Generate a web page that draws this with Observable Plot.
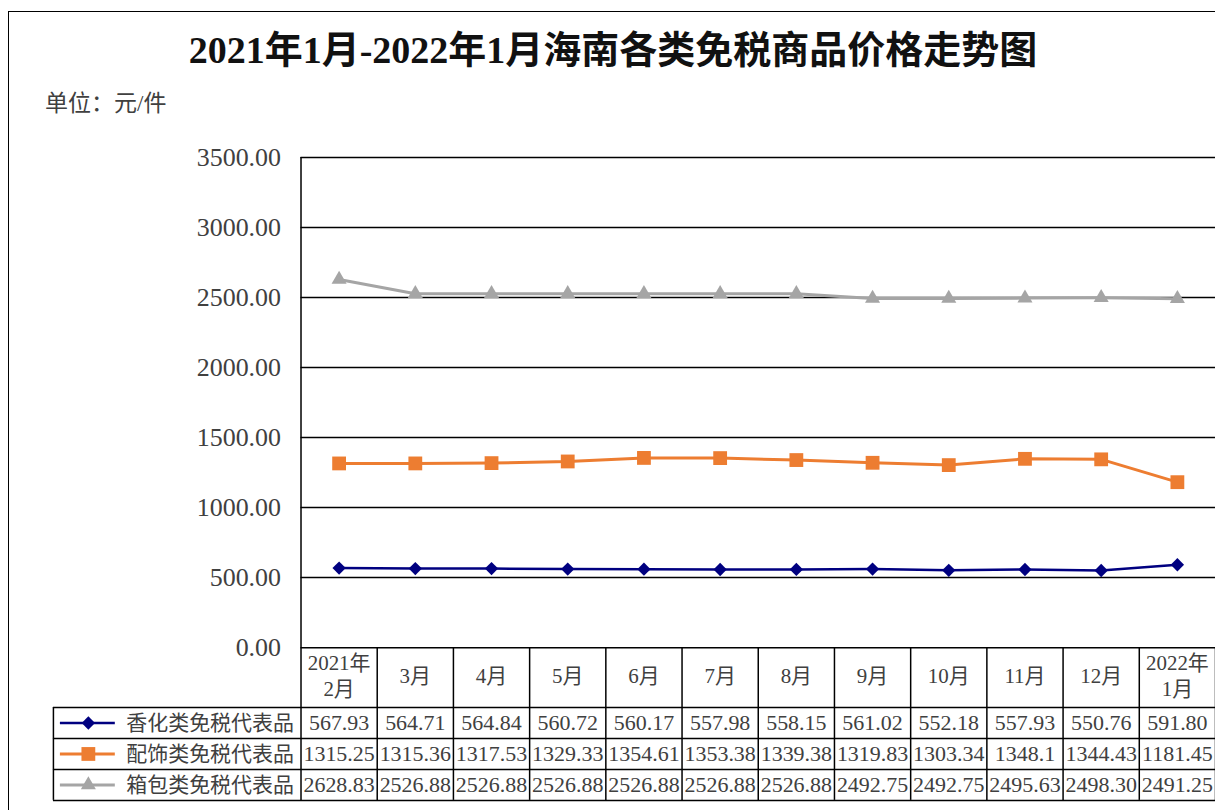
<!DOCTYPE html>
<html><head><meta charset="utf-8">
<script src="https://cdn.jsdelivr.net/npm/d3@7"></script>
<script src="https://cdn.jsdelivr.net/npm/@observablehq/plot@0.6"></script>
<style>
html,body{margin:0;padding:0;background:#fff;overflow:hidden;width:1215px;height:810px;}
#wrap{position:relative;width:1215px;height:810px;overflow:hidden;}
#border{position:absolute;left:8px;top:11px;width:1400px;height:1000px;border:1.5px solid #000;}
#title{position:absolute;left:0;top:24px;width:1226px;text-align:center;font:bold 38px 'Liberation Serif','Noto Sans CJK SC',serif;color:#111;line-height:52px;white-space:nowrap;}
#unit{position:absolute;left:45px;top:88px;font:23px 'Liberation Serif','Noto Sans CJK SC',serif;color:#404040;line-height:32px;}
#chart{position:absolute;left:0;top:130px;}
</style></head>
<body><div id="wrap"><div id="border"></div>
<div id="title">2021年1月-2022年1月海南各类免税商品价格走势图</div>
<div id="unit">单位：元/件</div>
<div id="chart"></div></div>
<script>
const months = ["2021年\n2月","3月","4月","5月","6月","7月","8月","9月","10月","11月","12月","2022年\n1月"];
const seriesNames = ["香化类免税代表品","配饰类免税代表品","箱包类免税代表品"];
const cosmetics = ["567.93","564.71","564.84","560.72","560.17","557.98","558.15","561.02","552.18","557.93","550.76","591.80"];
const accessories = ["1315.25","1315.36","1317.53","1329.33","1354.61","1353.38","1339.38","1319.83","1303.34","1348.1","1344.43","1181.45"];
const bags = ["2628.83","2526.88","2526.88","2526.88","2526.88","2526.88","2526.88","2492.75","2492.75","2495.63","2498.30","2491.25"];
const yTicks = [0,500,1000,1500,2000,2500,3000,3500];

const series = [
  {name: seriesNames[0], values: cosmetics, color: "#000080", symbol: "diamond2", r: 6, sw: 2.5},
  {name: seriesNames[1], values: accessories, color: "#ED7D31", symbol: "square", r: 7.8, sw: 3},
  {name: seriesNames[2], values: bags, color: "#A5A5A5", symbol: "triangle", r: 5.6, sw: 3}
];

const W = 1217, H = 680, MT = 27, MB = 162, ML = 301, MR = 0;
const FH = H - MT - MB;           // frame height
const rowTop = [60, 91, 122, 153]; // offsets of table lines below the x axis
const rowMid = [75.5, 106.5, 137.5];
const font = "'Liberation Serif','Noto Sans CJK SC',serif";
const textColor = "#404040";
const xi = (d, i) => i + 0.5;

const marks = [];
// gridlines
marks.push(Plot.ruleY(yTicks, {stroke: "#000", strokeWidth: 1.5}));
// y axis line extended through table
marks.push(Plot.ruleX([0], {stroke: "#000", strokeWidth: 1.5, insetBottom: -rowTop[3]}));
// column lines of the data table
marks.push(Plot.ruleX(d3.range(1, 13), {stroke: "#000", strokeWidth: 1.5, insetTop: FH, insetBottom: -rowTop[3]}));
// legend column left border
marks.push(Plot.ruleX([0], {stroke: "#000", strokeWidth: 1.5, dx: -248, insetTop: FH + rowTop[0], insetBottom: -rowTop[3]}));
// horizontal lines of the table
rowTop.forEach(o => marks.push(Plot.ruleY([0], {stroke: "#000", strokeWidth: 1.5, dy: o, insetLeft: -248})));
// header (category) labels
marks.push(Plot.text(months, {x: xi, text: d => d, frameAnchor: "bottom", lineAnchor: "middle", dy: 27, fontSize: 21, lineHeight: 1.24, fill: textColor}));

series.forEach((s, k) => {
  marks.push(Plot.line(s.values, {x: xi, y: d => +d, stroke: s.color, strokeWidth: s.sw}));
  marks.push(Plot.dot(s.values, {x: xi, y: d => +d, symbol: s.symbol, r: s.r, fill: s.color, stroke: "none"}));
  // table values
  marks.push(Plot.text(s.values, {x: xi, text: d => d, frameAnchor: "bottom", lineAnchor: "middle", dy: rowMid[k], fontSize: 22, fill: textColor}));
  // legend swatch
  marks.push(Plot.ruleY([0], {stroke: s.color, strokeWidth: s.sw, dy: rowMid[k], insetLeft: 60 - ML, insetRight: W - 115}));
  marks.push(Plot.dot([0], {frameAnchor: "bottom-left", dx: 88 - ML, dy: rowMid[k], symbol: s.symbol, r: s.r, fill: s.color, stroke: "none"}));
  marks.push(Plot.text([s.name], {text: d => d, frameAnchor: "bottom-left", lineAnchor: "middle", dx: 126 - ML, dy: rowMid[k], textAnchor: "start", fontSize: 21, fill: textColor}));
});

marks.push(Plot.axisY({ticks: yTicks, tickFormat: d => d.toFixed(2), tickSize: 0, tickPadding: 20, fontSize: 26, fill: textColor}));

const chart = Plot.plot({
  width: W, height: H,
  marginTop: MT, marginBottom: MB, marginLeft: ML, marginRight: MR,
  x: {domain: [0, 12], axis: null},
  y: {domain: [0, 3500], axis: null},
  style: {fontFamily: font, fontSize: "21px", color: textColor, background: "transparent", overflow: "visible"},
  marks
});
document.getElementById("chart").appendChild(chart);
</script>
</body></html>
